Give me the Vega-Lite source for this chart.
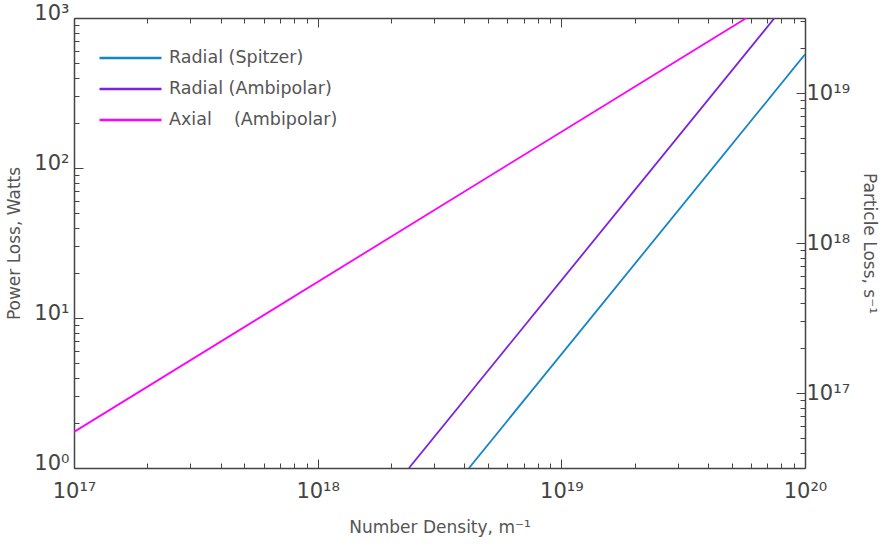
{
  "$schema": "https://vega.github.io/schema/vega-lite/v6.json",
  "width": 731,
  "height": 450,
  "autosize": {"type": "none"},
  "padding": {"left": 74, "top": 18, "right": 76, "bottom": 76},
  "background": "white",
  "config": {
    "view": {"stroke": null},
    "font": "DejaVu Sans",
    "axis": {
      "domainColor": "#444",
      "domainWidth": 1.5,
      "tickColor": "#444",
      "labelColor": "#444",
      "titleColor": "#555",
      "labelFont": "DejaVu Sans",
      "titleFont": "DejaVu Sans",
      "labelFontSize": 21,
      "titleFontSize": 17,
      "titleFontWeight": "normal",
      "grid": false
    }
  },
  "datasets": {
    "lines": [
      {"series": "Radial (Spitzer)", "n": 4.18e18, "power": 1, "particle": 3.1623e16},
      {"series": "Radial (Spitzer)", "n": 1e20, "power": 572, "particle": 1.809e19},
      {"series": "Radial (Ambipolar)", "n": 2.37e18, "power": 1, "particle": 3.1623e16},
      {"series": "Radial (Ambipolar)", "n": 7.5e19, "power": 1000, "particle": 3.1623e19},
      {"series": "Axial\u00a0\u00a0\u00a0\u00a0(Ambipolar)", "n": 1e17, "power": 1.74, "particle": 5.5e16},
      {"series": "Axial\u00a0\u00a0\u00a0\u00a0(Ambipolar)", "n": 5.75e19, "power": 1000, "particle": 3.1623e19}
    ]
  },
  "layer": [
    {
      "data": {"name": "lines"},
      "mark": {"type": "line", "strokeWidth": 1.8, "clip": true},
      "encoding": {
        "x": {
          "field": "n", "type": "quantitative",
          "scale": {"type": "log", "domain": [1e17, 1e20], "nice": false},
          "axis": {
            "orient": "bottom",
            "title": "Number Density,  m\u207b\u00b9",
            "titlePadding": 18,
            "values": [1e17,2e17,3e17,4e17,5e17,6e17,7e17,8e17,9e17,1e18,2e18,3e18,4e18,5e18,6e18,7e18,8e18,9e18,1e19,2e19,3e19,4e19,5e19,6e19,7e19,8e19,9e19,1e20],
            "labelExpr": "datum.value==1e17?'10\u00b9\u2077':datum.value==1e18?'10\u00b9\u2078':datum.value==1e19?'10\u00b9\u2079':datum.value==1e20?'10\u00b2\u2070':''",
            "tickSize": {"condition": {"test": "abs(log(datum.value)/LN10 - round(log(datum.value)/LN10)) < 1e-6", "value": -9}, "value": -5},
            "labelPadding": 21,
            "labelFlush": false
          }
        },
        "y": {
          "field": "power", "type": "quantitative",
          "scale": {"type": "log", "domain": [1, 1000], "nice": false},
          "axis": {
            "orient": "left",
            "title": "Power Loss, Watts",
            "titlePadding": 10,
            "values": [1,2,3,4,5,6,7,8,9,10,20,30,40,50,60,70,80,90,100,200,300,400,500,600,700,800,900,1000],
            "labelExpr": "datum.value==1?'10\u2070':datum.value==10?'10\u00b9':datum.value==100?'10\u00b2':datum.value==1000?'10\u00b3':''",
            "labelBaseline": "top",
            "tickSize": {"condition": {"test": "abs(log(datum.value)/LN10 - round(log(datum.value)/LN10)) < 1e-6", "value": -9}, "value": -5},
            "labelPadding": 14,
            "labelOffset": -16,
            "labelFlush": false
          }
        },
        "color": {
          "field": "series", "type": "nominal",
          "scale": {
            "domain": ["Radial (Spitzer)", "Radial (Ambipolar)", "Axial\u00a0\u00a0\u00a0\u00a0(Ambipolar)"],
            "range": ["#1485c8", "#7d22e0", "#ff00ff"]
          },
          "legend": {
            "title": null,
            "orient": "none",
            "legendX": 24,
            "legendY": 31,
            "symbolType": "stroke",
            "symbolSize": 3844,
            "symbolStrokeWidth": 2.5,
            "clipHeight": 18,
            "labelFontSize": 17.5,
            "labelLimit": 400,
            "labelColor": "#555",
            "labelFont": "DejaVu Sans",
            "labelOffset": 6,
            "rowPadding": 13
          }
        },
        "detail": {"field": "series"}
      }
    },
    {
      "data": {"name": "lines"},
      "mark": {"type": "line", "opacity": 0, "clip": true},
      "encoding": {
        "x": {
          "field": "n", "type": "quantitative",
          "scale": {"type": "log", "domain": [1e17, 1e20], "nice": false},
          "axis": {
            "orient": "top",
            "title": null,
            "labels": false,
            "values": [1e17,2e17,3e17,4e17,5e17,6e17,7e17,8e17,9e17,1e18,2e18,3e18,4e18,5e18,6e18,7e18,8e18,9e18,1e19,2e19,3e19,4e19,5e19,6e19,7e19,8e19,9e19,1e20],
            "tickSize": {"condition": {"test": "abs(log(datum.value)/LN10 - round(log(datum.value)/LN10)) < 1e-6", "value": -9}, "value": -5}
          }
        },
        "y": {
          "field": "particle", "type": "quantitative",
          "scale": {"type": "log", "domain": [3.1623e16, 3.1623e19], "nice": false},
          "axis": {
            "orient": "right",
            "title": "Particle Loss,  s\u207b\u00b9",
            "titlePadding": 10,
            "values": [4e16,5e16,6e16,7e16,8e16,9e16,1e17,2e17,3e17,4e17,5e17,6e17,7e17,8e17,9e17,1e18,2e18,3e18,4e18,5e18,6e18,7e18,8e18,9e18,1e19,2e19,3e19],
            "labelExpr": "datum.value==1e17?'10\u00b9\u2077':datum.value==1e18?'10\u00b9\u2078':datum.value==1e19?'10\u00b9\u2079':''",
            "tickSize": {"condition": {"test": "abs(log(datum.value)/LN10 - round(log(datum.value)/LN10)) < 1e-6", "value": -9}, "value": -5},
            "labelPadding": 10,
            "labelFlush": false
          }
        },
        "detail": {"field": "series"}
      }
    }
  ],
  "resolve": {
    "scale": {"y": "independent"},
    "axis": {"x": "independent", "y": "independent"}
  }
}
